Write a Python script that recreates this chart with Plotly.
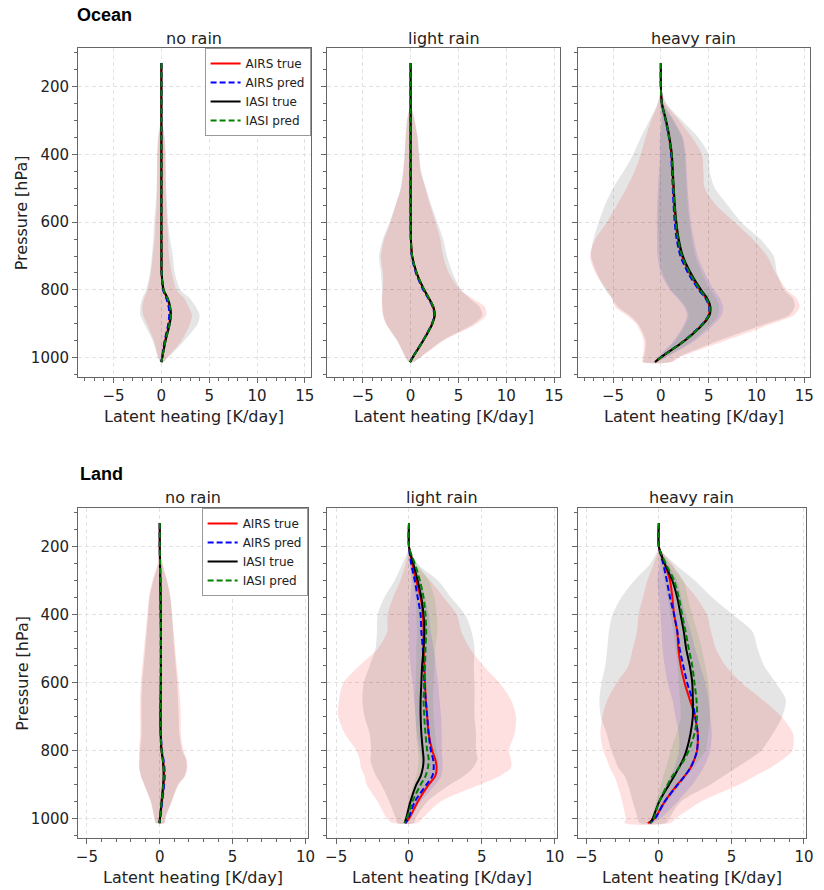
import plotly.graph_objects as go

# ---------------- data ----------------
P = [130, 200, 250, 300, 350, 400, 450, 500, 550, 600, 650, 700, 750, 800, 825, 850, 875, 900, 950, 1000, 1013]

SERIES = ["AIRS true", "AIRS pred", "IASI true", "IASI pred"]
ROW_TITLES = ["Ocean", "Land"]
COL_TITLES = ["no rain", "light rain", "heavy rain"]
X_TICKS_TOP = [-5, 0, 5, 10, 15]
X_TICKS_BOTTOM = [-5, 0, 5, 10]
Y_TICKS = [200, 400, 600, 800, 1000]

# ---- Ocean, no rain ----
OCN_NO_AIRS_TRUE = [0, 0, 0, 0, 0, 0, 0, 0, 0, 0, 0, 0.01, 0.02, 0.22, 0.62, 0.86, 0.93, 0.82, 0.40, 0.08, 0.0]
OCN_NO_AIRS_PRED = [0, 0, 0, 0, 0, 0, 0, 0, 0, 0, 0, 0.01, 0.02, 0.18, 0.52, 0.76, 0.82, 0.72, 0.34, 0.06, 0.0]
OCN_NO_IASI_TRUE = [0, 0, 0, 0, 0, 0, 0, 0, 0, 0, 0, 0.01, 0.03, 0.24, 0.66, 0.92, 1.00, 0.88, 0.44, 0.09, 0.0]
OCN_NO_IASI_PRED = [0, 0, 0, 0, 0, 0, 0, 0, 0, 0, 0, 0.01, 0.03, 0.23, 0.64, 0.90, 0.98, 0.86, 0.43, 0.09, 0.0]
OCN_NO_AIRS_TRUE_LO = [0, 0, 0, -0.05, -0.3, -0.4, -0.42, -0.45, -0.5, -0.6, -0.7, -0.9, -1.1, -1.45, -1.8, -2.0, -1.9, -1.5, -0.8, -0.3, -0.1]
OCN_NO_AIRS_TRUE_HI = [0, 0, 0, 0.05, 0.3, 0.4, 0.42, 0.45, 0.52, 0.6, 0.7, 0.8, 1.1, 1.6, 2.4, 2.85, 3.2, 3.0, 2.1, 0.6, 0.2]
OCN_NO_IASI_TRUE_LO = [0, 0, 0, -0.08, -0.35, -0.45, -0.48, -0.5, -0.6, -0.75, -0.85, -1.0, -1.2, -1.6, -2.0, -2.2, -2.2, -1.8, -0.9, -0.35, -0.1]
OCN_NO_IASI_TRUE_HI = [0, 0, 0, 0.08, 0.35, 0.45, 0.48, 0.5, 0.6, 0.7, 0.9, 1.2, 1.4, 2.0, 3.0, 3.6, 4.0, 3.8, 2.4, 0.7, 0.25]

# ---- Ocean, light rain ----
OCN_LT_AIRS_TRUE = [0, 0, 0, 0, 0, 0, 0, 0, 0, 0.01, 0.03, 0.15, 0.62, 1.40, 1.90, 2.35, 2.50, 2.25, 1.30, 0.20, -0.05]
OCN_LT_AIRS_PRED = [0, 0, 0, 0, 0, 0, 0, 0, 0, 0.01, 0.02, 0.12, 0.55, 1.32, 1.85, 2.30, 2.47, 2.22, 1.28, 0.18, -0.05]
OCN_LT_IASI_TRUE = [0, 0, 0, 0, 0, 0, 0, 0, 0, 0.01, 0.03, 0.16, 0.64, 1.43, 1.93, 2.38, 2.52, 2.27, 1.31, 0.20, -0.05]
OCN_LT_IASI_PRED = [0, 0, 0, 0, 0, 0, 0, 0, 0, 0.01, 0.03, 0.15, 0.63, 1.42, 1.92, 2.37, 2.51, 2.26, 1.30, 0.20, -0.05]
OCN_LT_AIRS_TRUE_LO = [0, 0, -0.03, -0.35, -0.5, -0.6, -0.75, -1.0, -1.55, -2.1, -2.75, -3.1, -2.9, -2.9, -3.0, -3.0, -2.9, -2.6, -1.4, -0.5, -0.2]
OCN_LT_AIRS_TRUE_HI = [0, 0, 0.03, 0.4, 0.7, 0.85, 1.05, 1.55, 2.05, 2.6, 3.1, 3.4, 4.0, 5.2, 6.5, 7.75, 7.9, 6.9, 3.45, 1.0, 0.3]
OCN_LT_IASI_TRUE_LO = [0, 0, -0.03, -0.4, -0.55, -0.65, -0.8, -1.05, -1.6, -2.2, -2.9, -3.3, -3.1, -3.0, -3.0, -2.95, -2.85, -2.55, -1.4, -0.5, -0.2]
OCN_LT_IASI_TRUE_HI = [0, 0, 0.03, 0.45, 0.75, 0.9, 1.1, 1.6, 2.15, 2.8, 3.4, 3.8, 4.4, 5.3, 6.2, 7.2, 7.5, 6.6, 3.3, 0.95, 0.3]

# ---- Ocean, heavy rain ----
OCN_HV_AIRS_TRUE = [0, 0, 0.10, 0.50, 0.86, 1.10, 1.20, 1.30, 1.40, 1.55, 1.78, 2.20, 3.00, 4.08, 4.73, 5.08, 5.00, 4.38, 2.45, -0.05, -0.6]
OCN_HV_AIRS_PRED = [0, 0, 0.10, 0.50, 0.84, 1.07, 1.16, 1.25, 1.33, 1.45, 1.65, 2.05, 2.85, 3.98, 4.68, 5.05, 4.98, 4.35, 2.42, -0.07, -0.6]
OCN_HV_IASI_TRUE = [0, 0, 0.12, 0.55, 0.90, 1.15, 1.25, 1.35, 1.46, 1.62, 1.87, 2.30, 3.12, 4.20, 4.85, 5.18, 5.08, 4.45, 2.48, -0.05, -0.6]
OCN_HV_IASI_PRED = [0, 0, 0.10, 0.52, 0.87, 1.12, 1.22, 1.32, 1.42, 1.57, 1.80, 2.22, 3.03, 4.10, 4.76, 5.10, 5.02, 4.40, 2.46, -0.05, -0.6]
OCN_HV_AIRS_TRUE_LO = [0, 0, -0.3, -1.0, -1.6, -2.1, -2.75, -3.6, -4.6, -5.65, -6.85, -7.4, -6.85, -5.65, -5.1, -4.8, -3.6, -2.6, -1.8, -1.9, -1.95]
OCN_HV_AIRS_TRUE_HI = [0, 0, 0.5, 1.9, 3.25, 4.3, 4.45, 4.6, 5.8, 7.7, 9.6, 11.1, 12.0, 13.2, 14.2, 14.5, 13.9, 11.6, 6.7, 1.9, 1.2]
OCN_HV_IASI_TRUE_LO = [0, 0, -0.35, -1.2, -2.1, -2.9, -3.9, -5.0, -5.85, -6.5, -7.05, -7.3, -6.7, -5.8, -5.1, -4.5, -3.3, -2.4, -1.6, -1.75, -1.85]
OCN_HV_IASI_TRUE_HI = [0, 0, 0.6, 2.2, 3.9, 5.0, 5.1, 5.65, 7.0, 8.4, 10.4, 11.8, 12.15, 12.9, 13.8, 14.0, 13.4, 11.0, 6.0, 1.7, 1.0]
OCN_HV_AIRS_PRED_LO = [0, 0, -0.03, 0.05, -0.1, -0.12, -0.2, -0.3, -0.38, -0.42, -0.4, -0.35, 0.0, 0.95, 1.75, 2.45, 2.75, 2.45, 1.35, -0.4, -0.7]
OCN_HV_AIRS_PRED_HI = [0, 0, 0.28, 1.35, 2.3, 2.6, 2.7, 2.8, 2.95, 3.15, 3.45, 3.85, 4.6, 5.55, 6.2, 6.5, 6.35, 5.6, 3.55, 0.5, -0.45]
OCN_HV_IASI_PRED_LO = [0, 0, 0.0, 0.1, 0.0, -0.02, -0.07, -0.17, -0.24, -0.28, -0.24, -0.17, 0.17, 1.1, 1.9, 2.6, 2.9, 2.6, 1.5, -0.3, -0.65]
OCN_HV_IASI_PRED_HI = [0, 0, 0.25, 1.3, 2.2, 2.5, 2.6, 2.7, 2.8, 3.0, 3.25, 3.6, 4.3, 5.2, 5.8, 6.1, 6.0, 5.3, 3.3, 0.4, -0.5]

# ---- Land, no rain ----
LND_NO_AIRS_TRUE = [0, 0, 0.02, 0.04, 0.06, 0.07, 0.08, 0.08, 0.08, 0.08, 0.07, 0.06, 0.07, 0.13, 0.22, 0.28, 0.30, 0.27, 0.15, 0.02, -0.02]
LND_NO_AIRS_PRED = [0, 0, 0.02, 0.04, 0.06, 0.07, 0.08, 0.08, 0.08, 0.08, 0.07, 0.06, 0.08, 0.15, 0.25, 0.32, 0.34, 0.30, 0.17, 0.03, -0.02]
LND_NO_IASI_TRUE = [0, 0, 0.02, 0.04, 0.06, 0.07, 0.08, 0.08, 0.08, 0.07, 0.06, 0.05, 0.06, 0.12, 0.20, 0.25, 0.26, 0.23, 0.12, 0.01, -0.03]
LND_NO_IASI_PRED = [0, 0, 0.02, 0.04, 0.06, 0.07, 0.08, 0.08, 0.08, 0.08, 0.07, 0.06, 0.07, 0.13, 0.21, 0.27, 0.28, 0.25, 0.13, 0.02, -0.02]
LND_NO_AIRS_TRUE_LO = [0, 0, -0.15, -0.5, -0.75, -0.85, -0.97, -1.08, -1.2, -1.3, -1.35, -1.35, -1.35, -1.42, -1.42, -1.42, -1.3, -1.08, -0.63, -0.36, -0.3]
LND_NO_AIRS_TRUE_HI = [0, 0, 0.2, 0.5, 0.72, 0.83, 0.95, 1.06, 1.17, 1.3, 1.4, 1.45, 1.45, 1.63, 1.85, 1.9, 1.74, 1.3, 0.83, 0.38, 0.35]
LND_NO_IASI_TRUE_LO = [0, 0, -0.12, -0.45, -0.7, -0.8, -0.9, -1.0, -1.1, -1.2, -1.25, -1.25, -1.25, -1.35, -1.38, -1.4, -1.28, -1.05, -0.6, -0.35, -0.28]
LND_NO_IASI_TRUE_HI = [0, 0, 0.18, 0.5, 0.75, 0.85, 0.92, 1.0, 1.1, 1.2, 1.25, 1.3, 1.35, 1.55, 1.8, 1.85, 1.7, 1.25, 0.8, 0.36, 0.32]

# ---- Land, light rain ----
LND_LT_AIRS_TRUE = [0, 0, 0.23, 0.50, 0.80, 0.95, 1.00, 1.00, 1.06, 1.10, 1.15, 1.25, 1.35, 1.60, 1.80, 1.90, 1.80, 1.35, 0.60, 0.00, -0.25]
LND_LT_AIRS_PRED = [0, 0, 0.15, 0.40, 0.60, 0.80, 0.85, 0.95, 1.00, 1.05, 1.15, 1.25, 1.35, 1.50, 1.65, 1.70, 1.60, 1.20, 0.40, -0.05, -0.25]
LND_LT_IASI_TRUE = [0, 0, 0.30, 0.60, 0.85, 1.00, 1.06, 1.00, 0.90, 0.85, 0.80, 0.80, 0.85, 0.95, 1.00, 0.95, 0.80, 0.50, 0.10, -0.20, -0.30]
LND_LT_IASI_PRED = [0, 0, 0.40, 0.75, 1.00, 1.13, 1.18, 1.13, 1.10, 1.05, 1.00, 1.05, 1.13, 1.25, 1.35, 1.30, 1.13, 0.80, 0.23, -0.15, -0.30]
LND_LT_AIRS_TRUE_LO = [0, 0, -0.23, -0.6, -1.1, -1.47, -1.5, -2.15, -3.4, -4.5, -4.8, -4.85, -4.4, -3.6, -3.4, -3.3, -3.05, -2.9, -2.15, -1.5, -1.1]
LND_LT_AIRS_TRUE_HI = [0, 0, 0.4, 1.47, 2.4, 3.28, 3.6, 4.2, 5.1, 6.2, 7.0, 7.35, 7.25, 6.85, 7.0, 7.0, 6.2, 4.85, 2.15, 0.9, 0.55]
LND_LT_IASI_TRUE_LO = [0, 0, -0.45, -1.0, -1.7, -2.15, -2.2, -2.3, -2.7, -3.1, -3.2, -3.05, -2.7, -2.6, -2.65, -2.5, -2.25, -1.9, -1.35, -0.9, -0.8]
LND_LT_IASI_TRUE_HI = [0, 0, 0.57, 2.0, 2.9, 3.85, 4.3, 4.5, 4.45, 4.5, 4.5, 4.5, 4.6, 4.6, 4.7, 4.4, 3.75, 2.8, 1.25, 0.45, 0.35]
LND_LT_AIRS_PRED_LO = [0, 0, 0.05, 0.15, 0.1, -0.05, 0.0, 0.0, 0.1, 0.25, 0.35, 0.45, 0.55, 0.75, 0.85, 0.9, 0.8, 0.55, 0.1, -0.2, -0.3]
LND_LT_AIRS_PRED_HI = [0, 0, 0.3, 0.8, 1.1, 1.36, 1.5, 1.7, 1.85, 2.0, 2.1, 2.2, 2.25, 2.25, 2.3, 2.3, 2.2, 1.8, 0.8, 0.1, -0.2]
LND_LT_IASI_PRED_LO = [0, 0, 0.1, 0.25, 0.45, 0.5, 0.55, 0.5, 0.5, 0.45, 0.4, 0.45, 0.5, 0.6, 0.65, 0.6, 0.5, 0.3, -0.05, -0.25, -0.32]
LND_LT_IASI_PRED_HI = [0, 0, 0.6, 1.35, 1.75, 1.92, 1.95, 1.8, 1.75, 1.7, 1.65, 1.7, 1.8, 1.9, 2.0, 1.95, 1.8, 1.35, 0.55, -0.05, -0.28]

# ---- Land, heavy rain ----
LND_HV_AIRS_TRUE = [0, 0, 0.40, 0.77, 0.93, 1.05, 1.27, 1.34, 1.50, 1.77, 2.13, 2.50, 2.68, 2.63, 2.45, 2.18, 1.77, 1.27, 0.40, -0.30, -0.77]
LND_HV_AIRS_PRED = [0, 0, 0.30, 0.55, 0.77, 1.05, 1.27, 1.43, 1.68, 1.95, 2.30, 2.50, 2.68, 2.63, 2.45, 2.18, 1.77, 1.30, 0.40, -0.27, -0.65]
LND_HV_IASI_TRUE = [0, 0, 0.40, 0.93, 1.27, 1.50, 1.72, 1.88, 2.13, 2.30, 2.34, 2.34, 2.18, 1.90, 1.68, 1.38, 1.05, 0.70, 0.02, -0.43, -0.60]
LND_HV_IASI_PRED = [0, 0, 0.48, 1.05, 1.38, 1.60, 1.84, 2.06, 2.30, 2.45, 2.59, 2.63, 2.45, 2.06, 1.77, 1.38, 0.93, 0.60, 0.02, -0.36, -0.55]
LND_HV_AIRS_TRUE_LO = [0, 0, -0.35, -0.8, -1.1, -1.4, -1.52, -1.8, -2.1, -2.9, -3.55, -3.9, -4.03, -3.83, -3.6, -3.38, -3.07, -2.86, -2.52, -2.3, -2.36]
LND_HV_AIRS_TRUE_HI = [0, 0, 0.9, 1.65, 2.6, 3.32, 3.6, 3.93, 4.6, 5.7, 7.15, 8.45, 9.25, 9.2, 8.55, 7.7, 6.6, 5.5, 2.9, 1.15, 0.8]
LND_HV_IASI_TRUE_LO = [0, 0, -0.6, -1.7, -2.6, -3.2, -3.45, -3.56, -3.7, -3.95, -4.1, -4.0, -3.6, -3.27, -3.04, -2.8, -2.36, -2.13, -1.8, -1.45, -1.34]
LND_HV_IASI_TRUE_HI = [0, 0, 1.1, 2.5, 3.7, 5.1, 6.46, 6.8, 7.26, 8.05, 8.75, 8.5, 7.85, 7.05, 6.26, 5.35, 4.44, 3.54, 1.5, 0.7, 0.48]
LND_HV_AIRS_PRED_LO = [0, 0, 0.05, -0.1, 0.0, 0.1, 0.18, 0.25, 0.4, 0.6, 0.93, 1.15, 1.38, 1.38, 1.25, 1.05, 0.8, 0.48, -0.1, -0.5, -0.8]
LND_HV_AIRS_PRED_HI = [0, 0, 0.6, 1.27, 1.55, 1.84, 2.2, 2.5, 2.85, 3.2, 3.42, 3.54, 3.65, 3.54, 3.35, 3.08, 2.7, 2.3, 1.27, 0.1, -0.6]
LND_HV_IASI_PRED_LO = [0, 0, 0.15, 0.36, 0.6, 0.8, 1.0, 1.15, 1.28, 1.38, 1.45, 1.5, 1.2, 0.82, 0.65, 0.48, 0.3, 0.14, -0.2, -0.5, -0.6]
LND_HV_IASI_PRED_HI = [0, 0, 0.8, 1.7, 2.0, 2.3, 2.65, 2.97, 3.2, 3.42, 3.5, 3.54, 3.4, 3.2, 2.8, 2.4, 1.95, 1.5, 0.6, -0.2, -0.5]

# panel table built from the named arrays: (means, bands[(lo, hi) or None per series])
PANELS = [
    ([OCN_NO_AIRS_TRUE, OCN_NO_AIRS_PRED, OCN_NO_IASI_TRUE, OCN_NO_IASI_PRED],
     [(OCN_NO_AIRS_TRUE_LO, OCN_NO_AIRS_TRUE_HI), None, (OCN_NO_IASI_TRUE_LO, OCN_NO_IASI_TRUE_HI), None]),
    ([OCN_LT_AIRS_TRUE, OCN_LT_AIRS_PRED, OCN_LT_IASI_TRUE, OCN_LT_IASI_PRED],
     [(OCN_LT_AIRS_TRUE_LO, OCN_LT_AIRS_TRUE_HI), None, (OCN_LT_IASI_TRUE_LO, OCN_LT_IASI_TRUE_HI), None]),
    ([OCN_HV_AIRS_TRUE, OCN_HV_AIRS_PRED, OCN_HV_IASI_TRUE, OCN_HV_IASI_PRED],
     [(OCN_HV_AIRS_TRUE_LO, OCN_HV_AIRS_TRUE_HI), (OCN_HV_AIRS_PRED_LO, OCN_HV_AIRS_PRED_HI),
      (OCN_HV_IASI_TRUE_LO, OCN_HV_IASI_TRUE_HI), (OCN_HV_IASI_PRED_LO, OCN_HV_IASI_PRED_HI)]),
    ([LND_NO_AIRS_TRUE, LND_NO_AIRS_PRED, LND_NO_IASI_TRUE, LND_NO_IASI_PRED],
     [(LND_NO_AIRS_TRUE_LO, LND_NO_AIRS_TRUE_HI), None, (LND_NO_IASI_TRUE_LO, LND_NO_IASI_TRUE_HI), None]),
    ([LND_LT_AIRS_TRUE, LND_LT_AIRS_PRED, LND_LT_IASI_TRUE, LND_LT_IASI_PRED],
     [(LND_LT_AIRS_TRUE_LO, LND_LT_AIRS_TRUE_HI), (LND_LT_AIRS_PRED_LO, LND_LT_AIRS_PRED_HI),
      (LND_LT_IASI_TRUE_LO, LND_LT_IASI_TRUE_HI), (LND_LT_IASI_PRED_LO, LND_LT_IASI_PRED_HI)]),
    ([LND_HV_AIRS_TRUE, LND_HV_AIRS_PRED, LND_HV_IASI_TRUE, LND_HV_IASI_PRED],
     [(LND_HV_AIRS_TRUE_LO, LND_HV_AIRS_TRUE_HI), (LND_HV_AIRS_PRED_LO, LND_HV_AIRS_PRED_HI),
      (LND_HV_IASI_TRUE_LO, LND_HV_IASI_TRUE_HI), (LND_HV_IASI_PRED_LO, LND_HV_IASI_PRED_HI)]),
]

# ---------------- styling ----------------
W, H = 824, 890
LINE_COLORS = ["#ff0000", "#0000ff", "#000000", "#008000"]
LINE_DASH = ["solid", "6px,3px", "solid", "6px,3px"]
BAND_COLORS = ["rgba(255,0,0,0.12)", "rgba(0,0,255,0.10)", "rgba(0,0,0,0.10)", "rgba(0,128,0,0.10)"]
FONT = "DejaVu Sans"

# panel boxes in pixels: (left, right, top, bottom)
BOXES = [
    (77, 312, 48, 377), (329, 564, 48, 377), (582, 817, 48, 377),
    (77, 309, 508, 838), (329, 561, 508, 838), (582, 813, 508, 838),
]
X_RANGE_TOP = [-8.7, 15.6]
X_RANGE_BOTTOM = [-5.6, 10.15]
Y_RANGE = [1057, 86]

fig = go.Figure()

for i, (means, bands) in enumerate(PANELS):
    ax = "" if i == 0 else str(i + 1)
    xref, yref = "x" + ax, "y" + ax
    for s in range(4):
        b = bands[s]
        if b is None:
            continue
        lo, hi = b
        fig.add_trace(go.Scatter(
            x=list(hi) + list(lo)[::-1], y=P + P[::-1],
            mode="lines", fill="toself", fillcolor=BAND_COLORS[s],
            line=dict(width=0, shape="spline", smoothing=0.8),
            hoverinfo="skip", showlegend=False, xaxis=xref, yaxis=yref))
    for s in range(4):
        fig.add_trace(go.Scatter(
            x=means[s], y=P, mode="lines", name=SERIES[s],
            line=dict(color=LINE_COLORS[s], width=2, dash=LINE_DASH[s], shape="spline", smoothing=0.8),
            showlegend=(i in (0, 3)),
            legend=("legend" if i < 3 else "legend2"),
            xaxis=xref, yaxis=yref))

axis_common = dict(
    showline=True, mirror=True, linecolor="#666666", linewidth=1.2,
    ticks="outside", ticklen=5, tickwidth=1, tickcolor="#666666",
    showgrid=True, gridcolor="#e2e2e2", griddash="4px,3px", gridwidth=0.8,
    zeroline=False, tickfont=dict(family=FONT, size=15, color="#222222"),
)

layout = dict(
    width=W, height=H, margin=dict(l=0, r=0, t=0, b=0),
    paper_bgcolor="white", plot_bgcolor="white",
    font=dict(family=FONT, size=14, color="#222222"),
)

for i, (l, r, t, b) in enumerate(BOXES):
    ax = "" if i == 0 else str(i + 1)
    top_row = i < 3
    xa = dict(axis_common)
    xa.update(domain=[l / W, r / W], anchor="y" + ax,
              range=X_RANGE_TOP if top_row else X_RANGE_BOTTOM,
              tickvals=X_TICKS_TOP if top_row else X_TICKS_BOTTOM,
              minor=dict(dtick=1, tick0=0, ticks="outside", ticklen=3, tickcolor="#666666", showgrid=False))
    ya = dict(axis_common)
    ya.update(domain=[1 - b / H, 1 - t / H], anchor="x" + ax,
              range=Y_RANGE, tickvals=Y_TICKS,
              showticklabels=(i % 3 == 0),
              minor=dict(dtick=50, tick0=0, ticks="outside", ticklen=3, tickcolor="#666666", showgrid=False))
    layout["xaxis" + ax] = xa
    layout["yaxis" + ax] = ya

legend_common = dict(
    bgcolor="white", bordercolor="#999999", borderwidth=1,
    font=dict(family=FONT, size=12, color="#222222"),
    xanchor="right", yanchor="top", tracegroupgap=0, itemwidth=30,
)
layout["legend"] = dict(legend_common, x=312 / W, y=1 - 48 / H)
layout["legend2"] = dict(legend_common, x=309 / W, y=1 - 508 / H)

annotations = []
annotations.append(dict(text="<b>" + ROW_TITLES[0] + "</b>", x=74 / W, y=1 - 15 / H, xref="paper", yref="paper",
                        xanchor="left", yanchor="middle", showarrow=False,
                        font=dict(family="Liberation Sans", size=18, color="black")))
annotations.append(dict(text="<b>" + ROW_TITLES[1] + "</b>", x=77 / W, y=1 - 474 / H, xref="paper", yref="paper",
                        xanchor="left", yanchor="middle", showarrow=False,
                        font=dict(family="Liberation Sans", size=18, color="black")))
for i, (l, r, t, b) in enumerate(BOXES):
    cx = (l + r) / 2 / W
    annotations.append(dict(text=COL_TITLES[i % 3], x=cx, y=1 - (t - 10) / H, xref="paper", yref="paper",
                            xanchor="center", yanchor="middle", showarrow=False,
                            font=dict(family=FONT, size=16, color="#222222")))
    annotations.append(dict(text="Latent heating [K/day]", x=cx, y=1 - (b + 39) / H, xref="paper", yref="paper",
                            xanchor="center", yanchor="middle", showarrow=False,
                            font=dict(family=FONT, size=16, color="#222222")))
    if i % 3 == 0:
        annotations.append(dict(text="Pressure [hPa]", x=20 / W, y=1 - (t + b) / 2 / H, xref="paper", yref="paper",
                                xanchor="center", yanchor="middle", textangle=-90, showarrow=False,
                                font=dict(family=FONT, size=16, color="#222222")))
layout["annotations"] = annotations

fig.update_layout(layout)
fig.write_html("out.html")
